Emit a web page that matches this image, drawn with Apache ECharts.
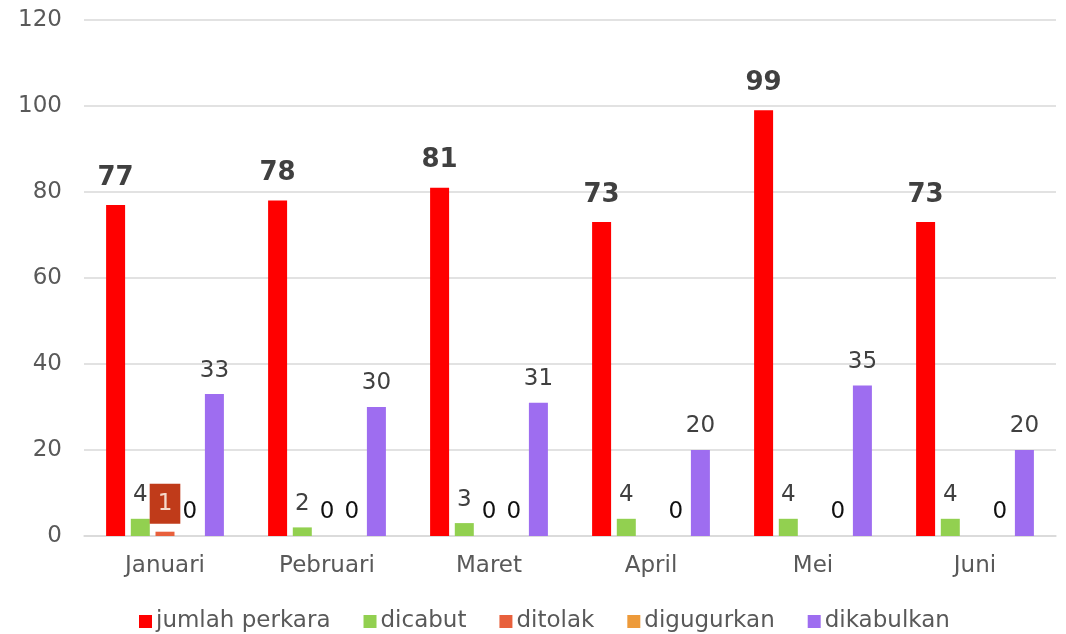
<!DOCTYPE html>
<html>
<head>
<meta charset="utf-8">
<title>Perkara per bulan</title>
<script src="https://cdn.jsdelivr.net/npm/echarts@6/dist/echarts.min.js"></script>
<style>
  html, body { margin: 0; padding: 0; background: #fff; }
  #chart { width: 1066px; height: 634px; }
</style>
</head>
<body>
<div id="chart"></div>
<script>
// data
var months = ["Januari", "Pebruari", "Maret", "April", "Mei", "Juni"];
var seriesNames = ["jumlah perkara", "dicabut", "ditolak", "digugurkan", "dikabulkan"];
var jumlahPerkara = [77, 78, 81, 73, 99, 73];
var dicabut = [4, 2, 3, 4, 4, 4];
var ditolak = [1, 0, 0, null, null, null];
var digugurkan = [0, 0, 0, 0, 0, 0];
var dikabulkan = [33, 30, 31, 20, 35, 20];
var yTicks = [0, 20, 40, 60, 80, 100, 120];

var colors = ["#FF0000", "#92D050", "#E8603C", "#ED9A3A", "#9E6DF0"];
var font = "DejaVu Sans";

var myChart = echarts.init(document.getElementById("chart"), null, { renderer: "canvas" });

function baseLabel(color) {
  return {
    show: true,
    position: "top",
    distance: 12,
    fontFamily: font,
    fontSize: 23,
    color: color || "#404040",
  };
}

// the single non-zero "ditolak" value gets a filled box
function ditolakData() {
  return ditolak.map(function (v) {
    if (v == null) return null;
    if (v > 0) {
      return {
        value: v,
        label: {
          backgroundColor: "#C03B1A",
          color: "#F6D9CC",
          padding: [9, 8],
          lineHeight: 22,
          distance: 8,
        },
      };
    }
    return v;
  });
}

var option = {
  backgroundColor: "#fff",
  animation: false,
  color: colors,
  grid: {
    top: 20,
    bottom: 98,
    left: 84,
    right: 10,
    containLabel: false,
  },
  legend: {
    show: true,
    data: seriesNames,
    top: 605,
    left: 134,
    itemWidth: 13,
    itemHeight: 13,
    itemGap: 33,
    icon: "rect",
    textStyle: {
      fontFamily: font,
      fontSize: 23,
      color: "#595959",
      padding: [0, 0, 0, -1],
    },
  },
  xAxis: {
    type: "category",
    data: months,
    axisTick: { show: false },
    axisLine: { show: true, lineStyle: { color: "#d9d9d9", width: 1.5 } },
    axisLabel: {
      margin: 19,
      fontFamily: font,
      fontSize: 23,
      color: "#595959",
    },
  },
  yAxis: {
    type: "value",
    min: yTicks[0],
    max: yTicks[yTicks.length - 1],
    interval: 20,
    axisTick: { show: false },
    axisLine: { show: false },
    axisLabel: {
      margin: 22,
      fontFamily: font,
      fontSize: 23,
      color: "#595959",
    },
    splitLine: { show: true, lineStyle: { color: "#d9d9d9", width: 1.5 } },
  },
  series: [
    {
      name: seriesNames[0],
      type: "bar",
      barWidth: 19,
      barGap: "30%",
      data: jumlahPerkara,
      label: {
        show: true,
        position: "top",
        distance: 14,
        fontFamily: font,
        fontSize: 26,
        fontWeight: "bold",
        color: "#404040",
      },
    },
    {
      name: seriesNames[1],
      type: "bar",
      barWidth: 19,
      barGap: "30%",
      data: dicabut,
      label: baseLabel(),
    },
    {
      name: seriesNames[2],
      type: "bar",
      barWidth: 19,
      barGap: "30%",
      data: ditolakData(),
      label: baseLabel("#111"),
    },
    {
      name: seriesNames[3],
      type: "bar",
      barWidth: 19,
      barGap: "30%",
      data: digugurkan,
      label: baseLabel("#111"),
    },
    {
      name: seriesNames[4],
      type: "bar",
      barWidth: 19,
      barGap: "30%",
      data: dikabulkan,
      label: baseLabel(),
    },
  ],
};

myChart.setOption(option);
window.addEventListener("resize", function () {
  myChart.resize();
});
</script>
</body>
</html>
